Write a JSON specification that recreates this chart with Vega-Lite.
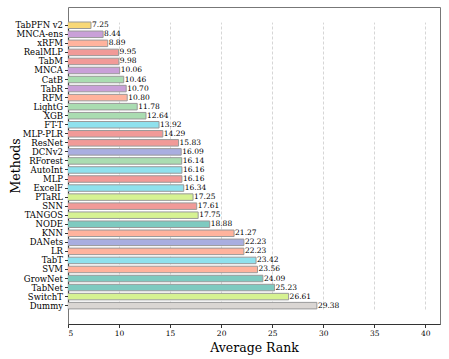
{
  "$schema": "https://vega.github.io/schema/vega-lite/v6.json",
  "autosize": {"type": "none"},
  "width": 372,
  "height": 317,
  "padding": {"left": 68, "top": 7, "right": 9, "bottom": 35},
  "config": {
    "font": "DejaVu Serif",
    "view": {"stroke": "#777", "strokeWidth": 1}
  },
  "data": {
    "values": [
      {"method": "TabPFN v2", "rank": 7.25, "group": "pfn"},
      {"method": "MNCA-ens", "rank": 8.44, "group": "purple"},
      {"method": "xRFM", "rank": 8.89, "group": "salmon"},
      {"method": "RealMLP", "rank": 9.95, "group": "red"},
      {"method": "TabM", "rank": 9.98, "group": "red"},
      {"method": "MNCA", "rank": 10.06, "group": "purple"},
      {"method": "CatB", "rank": 10.46, "group": "green"},
      {"method": "TabR", "rank": 10.70, "group": "purple"},
      {"method": "RFM", "rank": 10.80, "group": "salmon"},
      {"method": "LightG", "rank": 11.78, "group": "green"},
      {"method": "XGB", "rank": 12.64, "group": "green"},
      {"method": "FT-T", "rank": 13.92, "group": "cyan"},
      {"method": "MLP-PLR", "rank": 14.29, "group": "red"},
      {"method": "ResNet", "rank": 15.83, "group": "red"},
      {"method": "DCNv2", "rank": 16.09, "group": "blue"},
      {"method": "RForest", "rank": 16.14, "group": "green"},
      {"method": "AutoInt", "rank": 16.16, "group": "cyan"},
      {"method": "MLP", "rank": 16.16, "group": "red"},
      {"method": "ExcelF", "rank": 16.34, "group": "cyan"},
      {"method": "PTaRL", "rank": 17.25, "group": "lime"},
      {"method": "SNN", "rank": 17.61, "group": "red"},
      {"method": "TANGOS", "rank": 17.75, "group": "lime"},
      {"method": "NODE", "rank": 18.88, "group": "teal"},
      {"method": "KNN", "rank": 21.27, "group": "salmon"},
      {"method": "DANets", "rank": 22.23, "group": "blue"},
      {"method": "LR", "rank": 22.23, "group": "salmon"},
      {"method": "TabT", "rank": 23.42, "group": "cyan"},
      {"method": "SVM", "rank": 23.56, "group": "salmon"},
      {"method": "GrowNet", "rank": 24.09, "group": "teal"},
      {"method": "TabNet", "rank": 25.23, "group": "teal"},
      {"method": "SwitchT", "rank": 26.61, "group": "lime"},
      {"method": "Dummy", "rank": 29.38, "group": "gray"}
    ]
  },
  "encoding": {
    "y": {
      "field": "method",
      "type": "nominal",
      "sort": null,
      "scale": {"paddingInner": 0.28, "paddingOuter": 0, "range": [15.0, 301.9]},
      "axis": {
        "title": "Methods",
        "titleFontSize": 12.5,
        "titleFontWeight": "normal",
        "titleColor": "#000",
        "titleX": -53,
        "titleBaseline": "middle",
        "labelFontSize": 8.5,
        "labelColor": "#000",
        "labelPadding": 2,
        "tickSize": 3.5,
        "tickColor": "#333",
        "domainColor": "#333",
        "domainWidth": 1.2
      }
    }
  },
  "layer": [
    {
      "mark": {"type": "bar", "stroke": "#999", "strokeWidth": 1, "clip": true},
      "encoding": {
        "x": {
          "field": "rank",
          "type": "quantitative",
          "scale": {"domain": [5, 41.44], "nice": false, "zero": false},
          "axis": {
            "title": "Average Rank",
            "titleFontSize": 12.5,
            "titleFontWeight": "normal",
            "titleColor": "#000",
            "titlePadding": 4,
            "values": [5, 10, 15, 20, 25, 30, 35, 40],
            "labelFontSize": 7.5,
            "labelColor": "#000",
            "tickSize": 3.5,
            "tickColor": "#333",
            "domainColor": "#333",
            "domainWidth": 1.2,
            "grid": true,
            "gridDash": [3, 2],
            "gridColor": "#ccc",
            "gridWidth": 0.8
          }
        },
        "color": {
          "field": "group",
          "type": "nominal",
          "legend": null,
          "scale": {
            "domain": ["pfn", "purple", "salmon", "red", "green", "cyan", "blue", "lime", "teal", "gray"],
            "range": ["#f8d877", "#c9a0d8", "#ffb39d", "#f19a98", "#aadcb1", "#8fe1ed", "#a9aee0", "#d6f292", "#7ecac0", "#dad6d3"]
          }
        }
      }
    },
    {
      "mark": {"type": "text", "align": "left", "baseline": "middle", "dx": 1, "fontSize": 7.5, "color": "#000"},
      "encoding": {
        "x": {"field": "rank", "type": "quantitative"},
        "text": {"field": "rank", "type": "quantitative", "format": ".2f"}
      }
    }
  ]
}
